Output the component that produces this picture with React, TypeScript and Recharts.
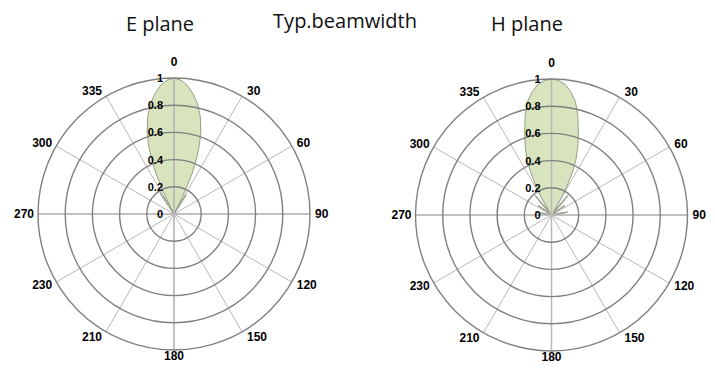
import { RadarChart, Radar, PolarGrid, PolarAngleAxis, PolarRadiusAxis } from 'recharts'

// E plane pattern (compass degrees, normalised gain)
const eAngles = [0, 3, 6, 9, 12, 15, 18, 20, 22, 24, 25, 26, 27, 28, 30, 31, 32, 33, 34, 35, 45, 60, 90, 120, 150, 180, 210, 240, 270, 300, 315, 323, 325, 326, 327, 328, 330, 332, 333, 334, 335, 336, 338, 340, 342, 345, 348, 351, 354, 357]
const eGain = [1.0, 0.985, 0.95, 0.895, 0.83, 0.745, 0.64, 0.55, 0.45, 0.33, 0.24, 0.14, 0.06, 0.02, 0.1, 0.16, 0.17, 0.15, 0.07, 0.02, 0.01, 0.015, 0.01, 0.01, 0.01, 0.01, 0.01, 0.01, 0.01, 0.015, 0.01, 0.02, 0.1, 0.17, 0.19, 0.16, 0.08, 0.02, 0.06, 0.14, 0.24, 0.33, 0.45, 0.55, 0.64, 0.745, 0.83, 0.895, 0.95, 0.985]

// H plane pattern
const hAngles = [0, 3, 6, 9, 12, 15, 18, 21, 24, 26, 28, 30, 32, 34, 36, 39, 40, 42, 44, 50, 53, 55, 57, 62, 76, 79, 81, 84, 100, 135, 180, 225, 260, 276, 279, 281, 284, 298, 303, 305, 307, 310, 316, 318, 320, 321, 324, 326, 328, 330, 332, 334, 336, 339, 342, 345, 348, 351, 354, 357]
const hGain = [1.0, 0.99, 0.965, 0.915, 0.85, 0.75, 0.64, 0.54, 0.44, 0.35, 0.25, 0.15, 0.06, 0.03, 0.04, 0.17, 0.19, 0.12, 0.03, 0.02, 0.11, 0.12, 0.05, 0.02, 0.03, 0.12, 0.1, 0.02, 0.01, 0.01, 0.01, 0.01, 0.01, 0.02, 0.1, 0.12, 0.03, 0.02, 0.05, 0.12, 0.11, 0.02, 0.03, 0.12, 0.19, 0.17, 0.04, 0.03, 0.06, 0.15, 0.25, 0.35, 0.44, 0.54, 0.64, 0.75, 0.85, 0.915, 0.965, 0.99]

const spokeAngles = [0, 30, 60, 90, 120, 150, 180, 210, 240, 270, 300, 330]
const spokeLabels = ['0', '30', '60', '90', '120', '150', '180', '210', '230', '270', '300', '335']
const radiusTicks = [0, 0.2, 0.4, 0.6, 0.8, 1]
const mainAxes = [0, 90, 180, 270]

const R = 136
const tickFont = '"Liberation Sans", Arial, sans-serif'

const toRecharts = (a: number) => 90 - a

function makeAngleTick(cx: number, cy: number) {
  return (props: any) => {
    const value = props.payload.value
    const th = (value * Math.PI) / 180
    const s = Math.sin(th)
    const c = Math.cos(th)
    const ex = cx + R * s
    const ey = cy - R * c
    let anchor = 'middle'
    let dx = 0
    if (s > 0.01) {
      anchor = 'start'
      dx = 5
    } else if (s < -0.01) {
      anchor = 'end'
      dx = -4
    }
    const dy = value === 0 ? -16 : -6 * c
    const idx = spokeAngles.indexOf(value)
    return (
      <text x={ex + dx} y={ey + dy} textAnchor={anchor} dominantBaseline="central"
        fontFamily={tickFont} fontSize={12} fontWeight="bold" fill="#000">
        {idx >= 0 ? spokeLabels[idx] : value}
      </text>
    )
  }
}

const radiusTick = (props: any) => (
  <text x={props.x - 11} y={props.y} textAnchor="end" dominantBaseline="central"
    fontFamily={tickFont} fontSize={11} fontWeight="bold" fill="#000">
    {props.payload.value}
  </text>
)

type PlotProps = { angles: number[]; gain: number[]; cx: number; cy: number; width: number }

function PolarPlot({ angles, gain, cx, cy, width }: PlotProps) {
  const data = angles.map((a, i) => ({ angle: a, gain: gain[i] }))
  return (
    <RadarChart width={width} height={372} data={data} cx={cx} cy={cy} outerRadius={R}
      startAngle={90} endAngle={-270} margin={{ top: 0, right: 0, bottom: 0, left: 0 }}>
      <Radar dataKey="gain" fill="#d7e4bd" fillOpacity={1} stroke="#7f8a6e" strokeWidth={0.8}
        dot={false} isAnimationActive={false} zIndex={100} />
      <PolarGrid gridType="circle" polarAngles={spokeAngles.map(toRecharts)} polarRadius={[]}
        stroke="#a6a6a6" strokeWidth={0.8} zIndex={150} />
      <PolarGrid gridType="circle" polarAngles={mainAxes.map(toRecharts)} polarRadius={[]}
        stroke="#b8b8b8" strokeWidth={1.5} zIndex={151} />
      <PolarGrid gridType="circle" radialLines={false} stroke="#808080" strokeWidth={1.4} zIndex={152} />
      <PolarAngleAxis dataKey="angle" type="number" domain={[0, 360]} ticks={spokeAngles}
        axisLine={false} tickLine={false} tick={makeAngleTick(cx, cy)} />
      <PolarRadiusAxis angle={90} domain={[0, 1]} ticks={radiusTicks} type="number"
        axisLine={false} tickLine={false} tick={radiusTick} />
    </RadarChart>
  )
}

export default function App() {
  return (
    <div style={{ position: 'absolute', left: 0, top: 0, width: 715, height: 372, background: '#fff' }}>
      <svg width={715} height={372} style={{ position: 'absolute', left: 0, top: 0 }}>
        <g fontFamily='"Open Sans", sans-serif' fontSize={20} fill="#111">
          <text x={160} y={31} textAnchor="middle">E plane</text>
          <text x={345} y={28} textAnchor="middle">Typ.beamwidth</text>
          <text x={527} y={31} textAnchor="middle">H plane</text>
        </g>
      </svg>
      <div style={{ position: 'absolute', left: 0, top: 0 }}>
        <PolarPlot angles={eAngles} gain={eGain} cx={174} cy={214} width={357} />
      </div>
      <div style={{ position: 'absolute', left: 357, top: 0 }}>
        <PolarPlot angles={hAngles} gain={hGain} cx={194.5} cy={215} width={358} />
      </div>
    </div>
  )
}
